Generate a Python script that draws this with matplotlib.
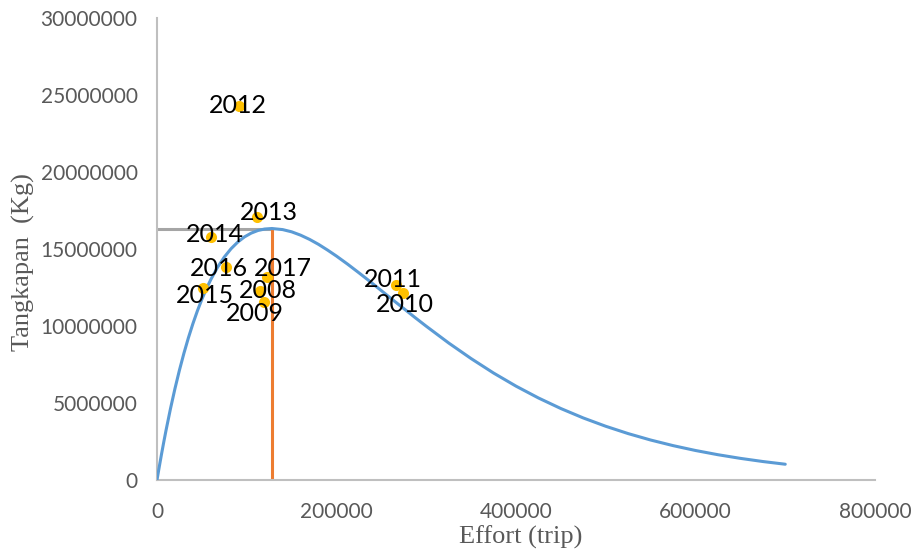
import matplotlib
matplotlib.use("Agg")
import matplotlib.pyplot as plt

# Observed effort / catch per year
years = ["2008", "2009", "2010", "2011", "2012", "2013", "2014", "2015", "2016", "2017"]
effort = [114800, 119200, 274100, 266300, 91400, 111400, 60200, 51300, 76900, 122600]
catch = [12270000, 11560000, 12140000, 12660000, 24290000, 17080000, 15780000, 12470000, 13830000, 13180000]

# Label offsets (pixels) for each year's data label
label_dx = [8, -9, 2, -3, -1, 12, 4, 2, -7, 16]
label_dy = [-1, 12, 11, -6, 0, -4, -2, 8, 1, -9]

# Fox surplus-production curve (effort, catch)
curve_effort = [0, 2500, 5000, 7500, 10000, 15000, 20000, 25000, 30000, 35000, 40000,
                45000, 50000, 55000, 60000, 67500, 75000, 82500, 90000, 97500, 105000,
                112500, 120000, 128000, 140000, 150000, 160000, 170000, 180000, 190000,
                200000, 212500, 225000, 237500, 250000, 262500, 275000, 287500, 300000,
                325000, 350000, 375000, 400000, 425000, 450000, 475000, 500000, 525000,
                550000, 575000, 600000, 625000, 650000, 675000, 700000]
curve_catch = [0, 850000, 1668000, 2453000, 3208000, 4627000, 5932000, 7132000, 8231000,
               9235000, 10149000, 10981000, 11734000, 12412000, 13022000, 13816000,
               14477000, 15018000, 15450000, 15787000, 16033000, 16203000, 16297000,
               16330000, 16260000, 16116000, 15898000, 15624000, 15300000, 14931000,
               14538000, 14010000, 13453000, 12882000, 12294000, 11707000, 11130000,
               10549000, 9985000, 8896000, 7884000, 6946000, 6095000, 5327000, 4640000,
               4028000, 3489000, 3013000, 2596000, 2233000, 1916000, 1642000, 1405000,
               1200000, 1024000]

# Maximum sustainable yield and the corresponding effort
e_msy = 128000
c_msy = 16330000

fig = plt.figure(figsize=(9.12, 5.55), dpi=100)
ax = fig.add_axes([157 / 912, 1 - 480 / 555, 718 / 912, 462 / 555])

ax.plot(curve_effort, curve_catch, color="#5B9BD5", lw=2.2, solid_capstyle="round",
        solid_joinstyle="round", zorder=3)
ax.plot([0, e_msy], [c_msy, c_msy], color="#A5A5A5", lw=2.2, zorder=2)
ax.plot([e_msy, e_msy], [0, c_msy], color="#ED7D31", lw=2.2, zorder=2)
ax.plot(effort, catch, "o", color="#FFC000", ms=8, mec="none", zorder=4)

for yr, x, y, dx, dy in zip(years, effort, catch, label_dx, label_dy):
    ax.annotate(yr, (x, y), xytext=(dx * 0.72, -dy * 0.72), textcoords="offset points",
                ha="center", va="center", fontsize=18, family="Lato", color="#000000", zorder=5)

ax.set_xlim(0, 800000)
ax.set_ylim(0, 30000000)
ax.set_xticks([0, 200000, 400000, 600000, 800000])
ax.set_yticks(range(0, 30000001, 5000000))
ax.set_xticklabels(["0", "200000", "400000", "600000", "800000"])
ax.set_yticklabels([str(v) for v in range(0, 30000001, 5000000)])

for side in ("top", "right"):
    ax.spines[side].set_visible(False)
for side in ("left", "bottom"):
    ax.spines[side].set_color("#BFBFBF")
    ax.spines[side].set_linewidth(1.5)

ax.tick_params(axis="both", length=0, labelsize=15, labelcolor="#595959")
ax.tick_params(axis="y", pad=14)
ax.tick_params(axis="x", pad=16)
for lbl in ax.get_xticklabels() + ax.get_yticklabels():
    lbl.set_family("Lato")

fig.text(521 / 912, 1 - 537 / 555, "Effort (trip)", ha="center", va="center",
         fontsize=19, family="Liberation Serif", color="#595959")
fig.text(23 / 912, 1 - 262 / 555, "Tangkapan  (Kg)", ha="center", va="center", rotation=90,
         fontsize=19, family="Liberation Serif", color="#595959")

fig.savefig("out.png", dpi=100)
